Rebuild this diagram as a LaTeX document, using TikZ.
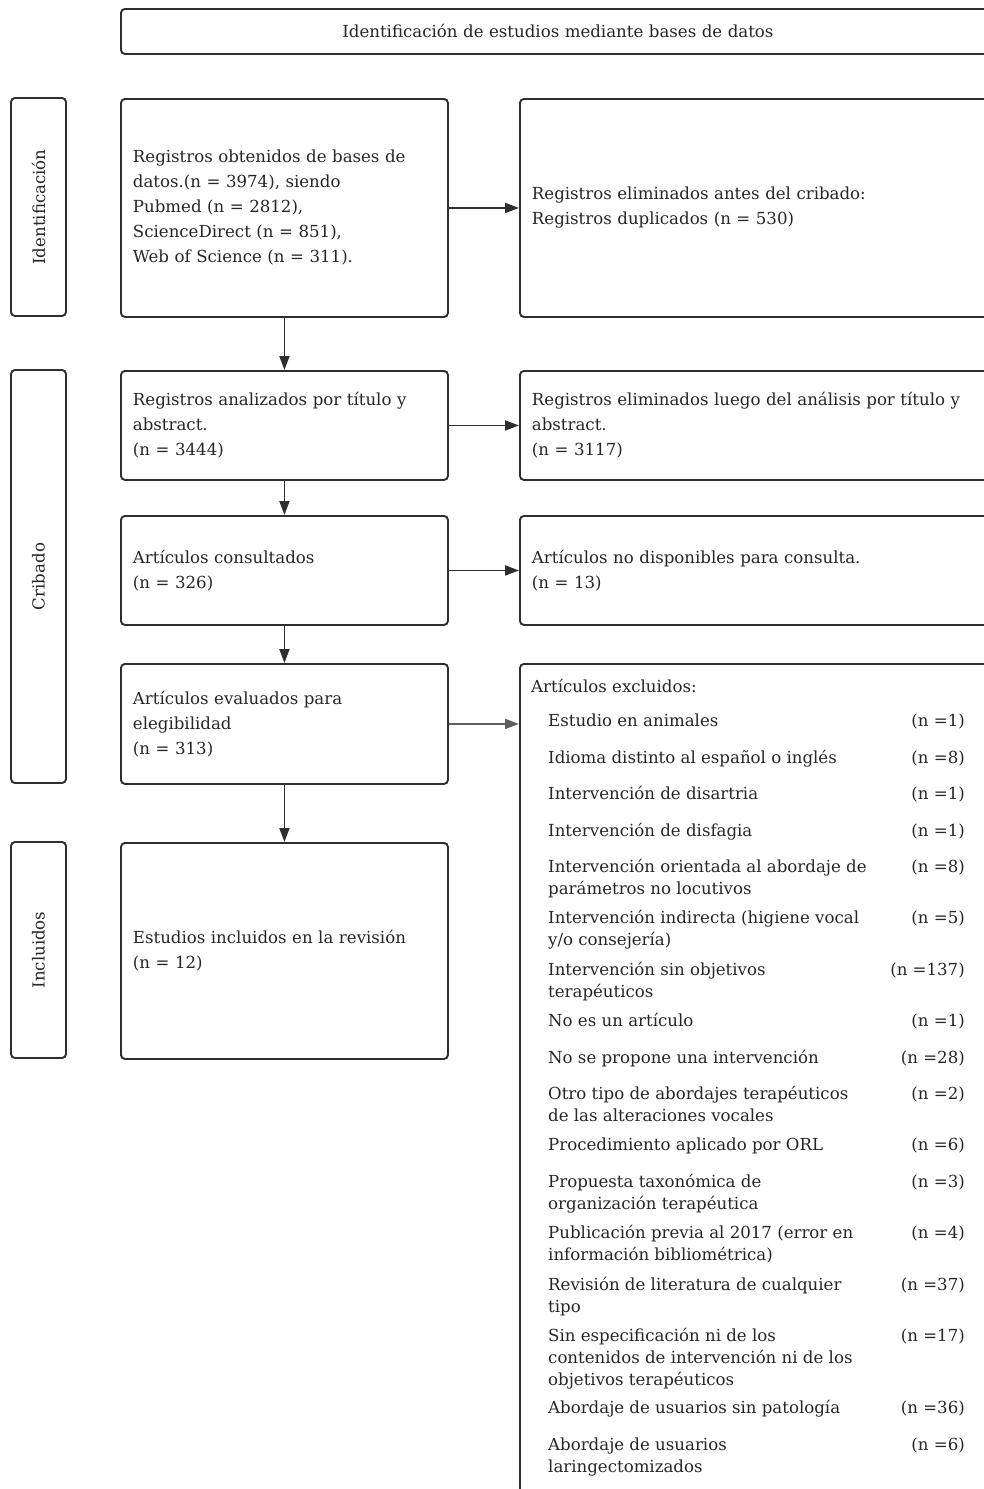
\documentclass[tikz,border=0pt]{standalone}
\usepackage{fontspec}
\setmainfont{DejaVu Serif}
\usetikzlibrary{arrows.meta}
\definecolor{ink}{HTML}{2E2E2E}
\definecolor{txt}{HTML}{262626}
\definecolor{arrgray}{HTML}{5E5E5E}
\newcommand\mainfs{\fontsize{16.6}{25}\selectfont}
\newcommand\listfs{\fontsize{16.6}{22}\selectfont}
\begin{document}
\begin{tikzpicture}[x=1pt,y=-1pt,
  box/.style={draw=ink, line width=1.9pt, rounded corners=4pt, text=txt, font=\mainfs,
    align=left, inner xsep=12pt, inner ysep=0pt, anchor=north west},
  side/.style={draw=ink, line width=1.9pt, rounded corners=4pt, text=txt, font=\mainfs,
    align=center, inner sep=0pt, rotate=90, anchor=center, minimum height=55pt},
  item/.style={text=txt, font=\listfs, align=left, inner sep=0pt, anchor=north west},
  cnt/.style={text=txt, font=\listfs, inner sep=0pt, anchor=north east},
  arr/.style={draw=ink, line width=1.9pt, -{Triangle[length=14pt,width=10pt]}}
]
\useasboundingbox (0,0) rectangle (984,1489);
\fill[white] (0,0) rectangle (984,1489);

% top title
\node[box, align=center, text width=850pt, minimum height=45pt] (top) at (120,8)
  {Identificación de estudios mediante bases de datos};

% side labels
\node[side, minimum width=218pt] (l1) at (38.5,207) {Identificación};
\node[side, minimum width=413pt] (l2) at (38.5,576.5) {Cribado};
\node[side, minimum width=216pt] (l3) at (38.5,950) {Incluidos};

% left column
\node[box, text width=303pt, minimum height=218pt] (b1) at (120,98)
  {Registros obtenidos de bases de\\datos.(n = 3974), siendo\\Pubmed (n = 2812),\\ScienceDirect (n = 851),\\Web of Science (n = 311).};
\node[box, text width=303pt, minimum height=109pt] (b2) at (120,370)
  {Registros analizados por título y\\abstract.\\(n = 3444)};
\node[box, text width=303pt, minimum height=109pt] (b3) at (120,515)
  {Artículos consultados\\(n = 326)};
\node[box, text width=303pt, minimum height=120pt] (b4) at (120,663)
  {Artículos evaluados para\\elegibilidad\\(n = 313)};
\node[box, text width=303pt, minimum height=216pt] (b5) at (120,842)
  {Estudios incluidos en la revisión\\(n = 12)};

% right column
\node[box, text width=451pt, minimum height=218pt] (r1) at (519,98)
  {Registros eliminados antes del cribado:\\Registros duplicados (n = 530)};
\node[box, text width=451pt, minimum height=109pt] (r2) at (519,370)
  {Registros eliminados luego del análisis por título y\\abstract.\\(n = 3117)};
\node[box, text width=451pt, minimum height=109pt] (r3) at (519,515)
  {Artículos no disponibles para consulta.\\(n = 13)};
\node[box, minimum width=475pt, minimum height=900pt] (ex) at (519,663) {};

\node[item] (exh) at (531,678) {\rule{0pt}{14pt}Artículos excluidos:};
\foreach \yy/\tt/\cc [count=\i] in {
  720/{Estudio en animales}/1,
  757/{Idioma distinto al español o inglés}/8,
  793/{Intervención de disartria}/1,
  830/{Intervención de disfagia}/1,
  866/{Intervención orientada al abordaje de\\parámetros no locutivos}/8,
  917/{Intervención indirecta (higiene vocal\\y/o consejería)}/5,
  969/{Intervención sin objetivos\\terapéuticos}/137,
  1020/{No es un artículo}/1,
  1057/{No se propone una intervención}/28,
  1093/{Otro tipo de abordajes terapéuticos\\de las alteraciones vocales}/2,
  1144/{Procedimiento aplicado por ORL}/6,
  1181/{Propuesta taxonómica de\\organización terapéutica}/3,
  1232/{Publicación previa al 2017 (error en\\información bibliométrica)}/4,
  1284/{Revisión de literatura de cualquier\\tipo}/37,
  1335/{Sin especificación ni de los\\contenidos de intervención ni de los\\objetivos terapéuticos}/17,
  1407/{Abordaje de usuarios sin patología}/36,
  1444/{Abordaje de usuarios\\laringectomizados}/6}
{
  \node[item] (e\i) at (548,\yy-8) {\rule{0pt}{14pt}\tt};
  \node[cnt] (c\i) at (965,\yy-8) {\rule{0pt}{14pt}(n =\cc)};
}

% connectors
\draw[arr] (b1) -- (r1);
\draw[arr] (b2) -- (r2);
\draw[arr] (b3) -- (r3);
\draw[arr, draw=arrgray] (b4) -- (b4 -| ex.west);
\draw[arr] (b1) -- (b2);
\draw[arr] (b2) -- (b3);
\draw[arr] (b3) -- (b4);
\draw[arr] (b4) -- (b5);
\end{tikzpicture}
\end{document}
